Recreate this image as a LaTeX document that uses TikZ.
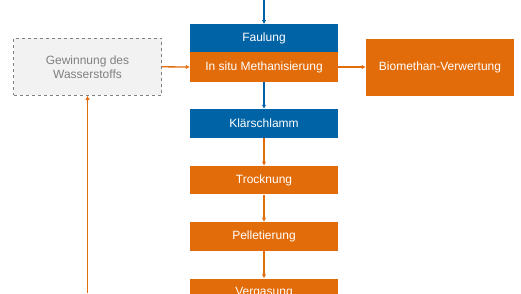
\documentclass[tikz,border=0pt]{standalone}
\usepackage{fontspec}
\setmainfont{Liberation Sans}
\usetikzlibrary{arrows.meta}
\definecolor{kblue}{HTML}{0063A6}
\definecolor{korange}{HTML}{E36C0A}
\definecolor{kgray}{HTML}{808080}
\tikzset{
  box/.style={minimum width=148pt,minimum height=28.5pt,inner sep=0pt,text=white,font=\fontsize{12}{14}\selectfont},
  bluebox/.style={box,fill=kblue},
  orangebox/.style={box,fill=korange},
  graybox/.style={box,draw=kgray,dashed,line width=1pt,fill=gray!10,text=kgray,align=center,minimum height=57pt},
  flow/.style={line width=1.3pt,-{Latex[length=4pt,width=4.5pt]}}
}
\begin{document}
\begin{tikzpicture}[x=1pt,y=-1pt]
  \useasboundingbox (0,0) rectangle (521,293);
  \clip (0,0) rectangle (521,293);
  % boxes
  \node[bluebox] (faulung) at (264,38.5) {Faulung};
  \node[orangebox,minimum height=30pt] (methan) at (264,67) {In situ Methanisierung};
  \node[orangebox,minimum height=57pt] (biomethan) at (440,67.3) {Biomethan-Verwertung};
  \node[graybox] (wasserstoff) at (87.5,66.8) {Gewinnung des\\Wasserstoffs};
  \node[bluebox] (klaer) at (264,123.3) {Klärschlamm};
  \node[orangebox] (trocknung) at (264,180.2) {Trocknung};
  \node[orangebox] (pellet) at (264,236.3) {Pelletierung};
  \node[orangebox] (vergasung) at (264,292.8) {Vergasung};
  % free ends
  \coordinate (zulauf) at (264,0);
  \coordinate (unten) at (87.5,293);
  % connectors
  \draw[flow,kblue] (zulauf) -- (faulung.north);
  \draw[flow,kblue] (methan.south) -- (klaer.north);
  \draw[flow,korange] (wasserstoff.east) -- (methan.west);
  \draw[flow,korange] (methan.east) -- (biomethan.west|-methan.east);
  \draw[flow,korange] (klaer.south) -- (trocknung.north);
  \draw[flow,korange] (trocknung.south) -- (pellet.north);
  \draw[flow,korange] (pellet.south) -- (vergasung.north);
  \draw[flow,korange] (unten) -- (wasserstoff.south);
\end{tikzpicture}
\end{document}
